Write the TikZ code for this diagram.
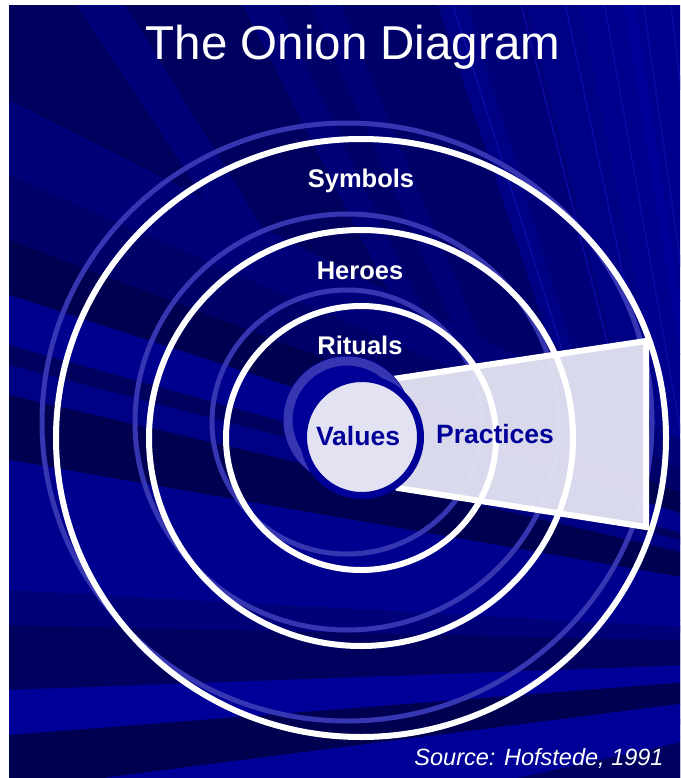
\documentclass[tikz,border=0pt]{standalone}
\usepackage{fontspec}
\setmainfont{Liberation Sans}
\usetikzlibrary{positioning}

% shades of the backdrop
\definecolor{shadeA}{HTML}{000050}
\definecolor{shadeB}{HTML}{00005E}
\definecolor{shadeC}{HTML}{000069}
\definecolor{shadeD}{HTML}{000078}
\definecolor{shadeE}{HTML}{000085}
\definecolor{shadeF}{HTML}{00008F}
\definecolor{shadeG}{HTML}{000098}
\definecolor{streak}{HTML}{0A0AA4}
\definecolor{ghost}{HTML}{3636B2}
\definecolor{paleblue}{HTML}{E2E2F2}
\definecolor{inkblue}{HTML}{000099}

\tikzset{
  ring/.style={draw=white, line width=6pt},
  ghostring/.style={draw=ghost, line width=5pt},
  wedge/.style={fill=paleblue, fill opacity=0.96, draw=white, line width=6pt, line join=miter},
  core/.style={fill=paleblue, draw=inkblue, line width=7pt},
  ringlabel/.style={anchor=base, text=white, font=\bfseries\fontsize{25.5}{25.5}\selectfont},
  corelabel/.style={anchor=base, text=inkblue, font=\bfseries\fontsize{26.5}{26.5}\selectfont},
}

\begin{document}
\begin{tikzpicture}[x=1pt,y=-1pt]
  \tikzstyle{every node}+=[inner sep=0pt]
  \fill[white] (0,0) rectangle (680,778);
  \useasboundingbox (0,0) rectangle (680,778);

  % backdrop and its rays
  \begin{scope}
    \clip (9,6) rectangle (680,778);
    \fill[shadeE] (9,6) rectangle (680,778);
    \foreach \xa/\xb/\c in {-300/60/shadeB, 60/110/shadeD, 110/230/shadeB,
        230/265/shadeD, 265/300/shadeC, 300/330/shadeD, 330/430/shadeC,
        430/460/shadeE, 460/520/shadeD, 520/575/shadeE, 575/620/shadeF,
        620/632/shadeG, 632/700/shadeF, 700/900/shadeE}
      \fill[\c] (800,1100) -- (\xa,-20) -- (\xb,-20) -- cycle;
    \foreach \x in {445,515,560,600,640,668}
      \draw[streak, line width=1.5pt] (\x,-20) -- (800,1100);
    \foreach \ya/\yb/\c in {100/175/shadeD, 175/240/shadeC, 240/295/shadeA,
        295/345/shadeF, 345/365/shadeB, 365/395/shadeE, 395/460/shadeA,
        460/590/shadeF, 590/625/shadeD, 625/690/shadeB, 690/735/shadeG,
        735/790/shadeA, 790/890/shadeG, 890/1300/shadeB}
      \fill[\c] (1100,650) -- (9,\ya) -- (9,\yb) -- cycle;
  \end{scope}

  % shadow rings
  \foreach \rx/\ry in {305/299, 212/208, 135/132}
    \draw[ghostring] (347,422) ellipse [x radius=\rx pt, y radius=\ry pt];

  % practices band
  \draw[wedge] (386,380) -- (646,341) -- (646,527) -- (398,488) -- (362,437) -- cycle;

  % the layers
  \foreach \rx/\ry in {305/299, 212/208, 135/132}
    \draw[ring] (361,438) ellipse [x radius=\rx pt, y radius=\ry pt];

  % the core with its shadow
  \fill[shadeG] (347,420) circle [radius=64pt];
  \draw[ghost, line width=9pt] (347,420) circle [radius=59pt];
  \draw[core] (362,437) circle [radius=58.5pt];

  \node[anchor=base, text=white, font=\fontsize{47.5}{47.5}\selectfont]
    (heading) at (353,60) {The Onion Diagram};
  \node[ringlabel] (symbols) at (361,187) {Symbols};
  \node[ringlabel] (heroes) at (360,279) {Heroes};
  \node[ringlabel] (rituals) at (360,354) {Rituals};
  \node[corelabel] (values) at (358,445) {Values};
  \node[corelabel] (practices) at (495,443) {Practices};
  \node[anchor=base, text=white, font=\itshape\fontsize{23.5}{23.5}\selectfont]
    (source) at (539,765) {Source: Hofstede, 1991};
\end{tikzpicture}
\end{document}
